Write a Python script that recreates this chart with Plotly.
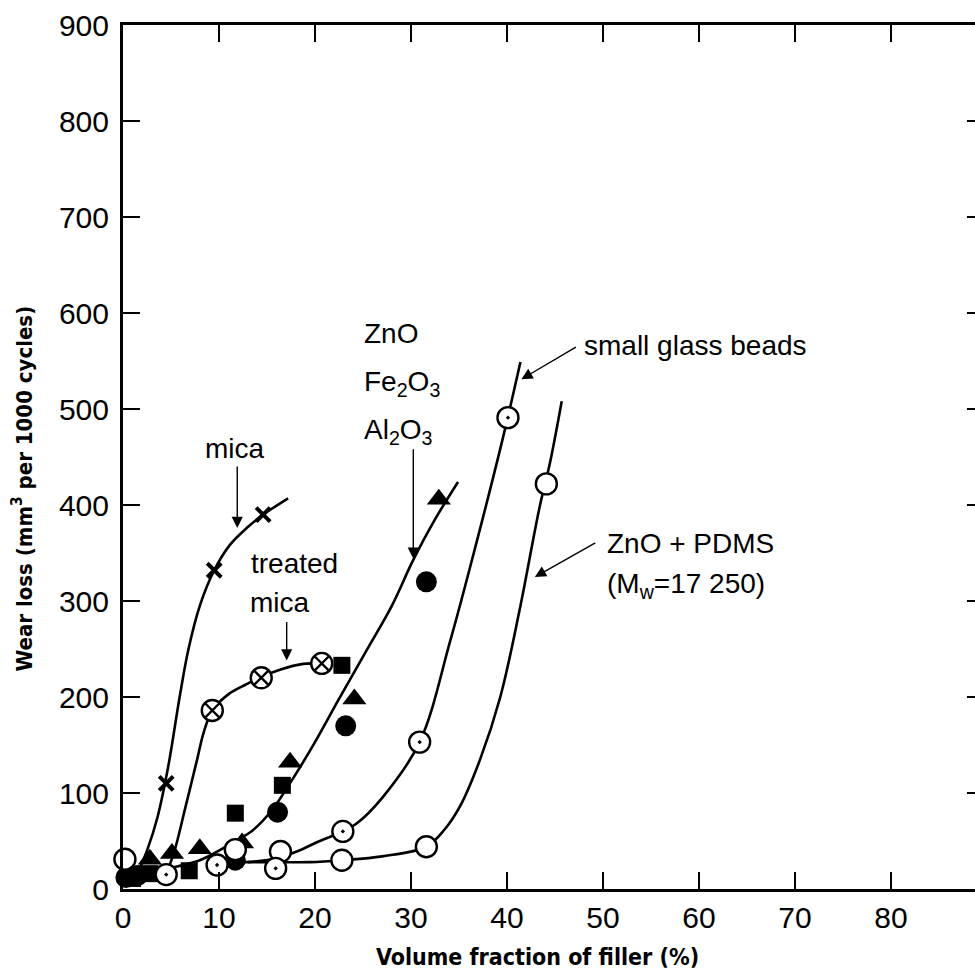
import plotly.graph_objects as go

# ---------------- data ----------------
x_ticks = [0, 10, 20, 30, 40, 50, 60, 70, 80]
y_ticks = [0, 100, 200, 300, 400, 500, 600, 700, 800, 900]

# measured points
mica_x = [4.5, 9.5, 14.6]
mica_y = [110, 332, 390]
treated_mica_x = [9.3, 14.4, 20.7]
treated_mica_y = [186, 220, 235]
oxide_circle_x = [0.3, 1.5, 11.7, 16.1, 23.2, 31.6]
oxide_circle_y = [12, 14, 30, 80, 170, 320]
oxide_square_x = [1.0, 2.8, 6.9, 11.7, 16.6, 22.8]
oxide_square_y = [11, 16, 19, 79, 108, 233]
oxide_triangle_x = [2.8, 5.1, 8.0, 12.4, 17.4, 24.1, 32.9]
oxide_triangle_y = [31, 37, 42, 48, 132, 198, 406]
glass_x = [4.5, 9.8, 15.9, 22.9, 30.9, 40.1]
glass_y = [15, 25, 21.5, 60, 153, 491]
pdms_x = [0.2, 11.7, 16.4, 22.8, 31.6, 44.1]
pdms_y = [31, 41, 39, 30, 44, 422]

# hand-drawn trend curves
mica_curve_x = [1.3, 2.5, 3.6, 4.7, 5.9, 6.8, 8.0, 9.5, 11.1, 13.0, 14.6, 17.2]
mica_curve_y = [12, 40, 75, 127, 200, 249, 295, 332, 358, 377, 390, 407]
treated_curve_x = [4.5, 5.4, 6.5, 7.7, 8.4, 9.3, 11.0, 12.8, 14.4, 16.5, 18.5, 20.0]
treated_curve_y = [15, 41, 85, 134, 163, 186, 203, 213, 221, 229, 234, 235]
oxide_curve_x = [0.3, 2.5, 5.0, 8.0, 9.8, 11.5, 13.5, 15.5, 17.7, 20.0, 22.5, 25.4, 28.0, 30.2, 32.5, 34.9]
oxide_curve_y = [14, 17, 22, 30, 39, 49, 61, 82, 115, 153, 198, 249, 295, 342, 385, 424]
glass_curve_x = [13.0, 16.0, 18.1, 20.5, 22.9, 24.3, 27.0, 30.9, 34.1, 36.8, 39.6, 41.4]
glass_curve_y = [28, 32, 39, 50, 60, 68, 95, 153, 259, 360, 471, 549]
pdms_curve_x = [12.5, 16.0, 19.5, 22.8, 27.0, 31.6, 33.5, 35.1, 37.2, 39.3, 41.3, 43.4, 44.5, 45.7]
pdms_curve_y = [28, 28, 28, 30, 34, 44, 62, 86, 135, 200, 290, 398, 445, 508]

# ---------------- figure ----------------
fig = go.Figure()
LINE = dict(color="black", width=2.6, shape="spline", smoothing=1.0)

for cx, cy in [(mica_curve_x, mica_curve_y), (treated_curve_x, treated_curve_y),
               (oxide_curve_x, oxide_curve_y), (glass_curve_x, glass_curve_y),
               (pdms_curve_x, pdms_curve_y)]:
    fig.add_trace(go.Scatter(x=cx, y=cy, mode="lines", line=LINE,
                             hoverinfo="skip", showlegend=False))

def pts(x, y, symbol, size, fill, lw=2.2):
    fig.add_trace(go.Scatter(
        x=x, y=y, mode="markers", showlegend=False, cliponaxis=False,
        marker=dict(symbol=symbol, size=size, color=fill,
                    line=dict(color="black", width=lw))))

pts(oxide_square_x, oxide_square_y, "square", 17, "black", 0)
pts(oxide_triangle_x, oxide_triangle_y, "triangle-up", 21, "black", 0)
pts(oxide_circle_x, oxide_circle_y, "circle", 21, "black", 0)
pts(pdms_x, pdms_y, "circle", 21, "white", 2.4)
pts(glass_x, glass_y, "circle-dot", 21, "white", 2.4)
pts(treated_mica_x, treated_mica_y, "circle-x", 21, "white", 2.4)
pts(mica_x, mica_y, "x-thin-open", 14, "black", 4)

# invisible trace so that the right-hand tick axis is drawn
fig.add_trace(go.Scatter(x=mica_x, y=mica_y, yaxis="y2", mode="markers",
                         marker=dict(opacity=0), hoverinfo="skip", showlegend=False))

# ---------------- annotations ----------------
TXT = dict(family="Liberation Sans, Arial, sans-serif", size=28, color="black")
def label(text, x, y, xanchor="left"):
    fig.add_annotation(x=x, y=y, text=text, showarrow=False, font=TXT,
                       xanchor=xanchor, yanchor="middle", align="left")

def arrow(x, y, ax, ay):
    fig.add_annotation(x=x, y=y, ax=ax, ay=ay, text="", showarrow=True,
                       arrowhead=2, arrowsize=1.6, arrowwidth=1.4,
                       arrowcolor="black", standoff=0)

label("mica", 11.7, 459, "center")
arrow(11.9, 376, 0, -63)
label("treated", 13.1, 339)
label("mica", 13.0, 298)
arrow(17.05, 238, 0, -40)
label("ZnO", 24.9, 579)
label("Fe<sub>2</sub>O<sub>3</sub>", 24.9, 527)
label("Al<sub>2</sub>O<sub>3</sub>", 24.9, 477)
arrow(30.24, 344, 0, -111)
label("small glass beads", 47.8, 566)
arrow(41.5, 531, 56, -33)
label("ZnO + PDMS", 50.2, 360)
label("(M<sub>w</sub>=17 250)", 50.2, 316)
arrow(42.9, 325, 62, -35)

TITLE = dict(family="DejaVu Sans Condensed, DejaVu Sans, sans-serif", size=23, color="black")
fig.add_annotation(xref="paper", yref="paper", x=0.487, y=-0.0787,
                   text="<b>Volume fraction of filler (%)</b>", showarrow=False,
                   font=TITLE, xanchor="center", yanchor="middle")
fig.add_annotation(xref="paper", yref="paper", x=-0.118, y=0.464,
                   text="<b>Wear loss (mm<sup>3</sup> per 1000 cycles)</b>", showarrow=False,
                   font=dict(TITLE, size=22), xanchor="center", yanchor="middle", textangle=-90)

TICKFONT = dict(family="Liberation Sans, Arial, sans-serif", size=30, color="black")
fig.update_layout(
    width=975, height=969,
    margin=dict(l=123, r=0, t=25, b=80),
    paper_bgcolor="white", plot_bgcolor="white",
    showlegend=False,
    xaxis=dict(range=[0, 88.75], tickvals=x_ticks, ticks="inside", ticklen=17,
               tickwidth=2, tickcolor="black", showline=True, linewidth=3,
               linecolor="black", mirror="ticks", showgrid=False, zeroline=False,
               tickfont=TICKFONT),
    yaxis=dict(range=[0, 900], tickvals=y_ticks, ticks="inside", ticklen=17,
               tickwidth=2, tickcolor="black", showline=True, linewidth=3,
               linecolor="black", mirror=False, showgrid=False, zeroline=False,
               tickfont=TICKFONT, ticklabelstandoff=5),
    yaxis2=dict(range=[0, 900], tickvals=y_ticks, overlaying="y", side="right",
                ticks="inside", ticklen=8, tickwidth=2, tickcolor="black",
                showline=False, showticklabels=False, showgrid=False, zeroline=False),
)

fig.write_html("out.html")
